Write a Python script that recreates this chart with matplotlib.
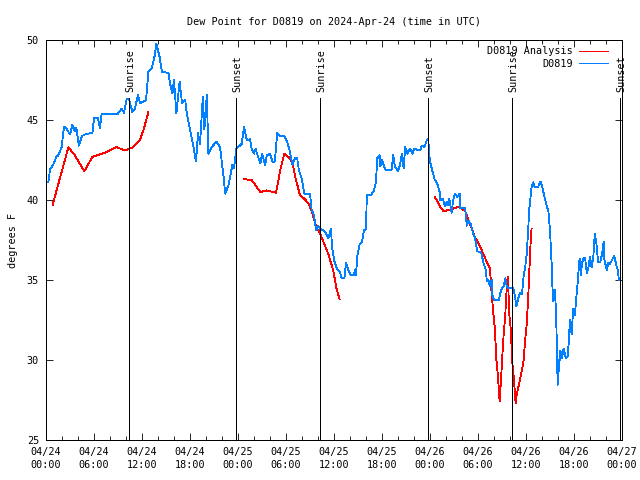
import matplotlib
matplotlib.use("Agg")
import matplotlib.pyplot as plt
import numpy as np

# ---------------- data ----------------
title = "Dew Point for D0819 on 2024-Apr-24 (time in UTC)"
ylabel = "degrees F"
xtick_hours = [0, 6, 12, 18, 24, 30, 36, 42, 48, 54, 60, 66, 72]
xtick_labels = ["04/24\n00:00", "04/24\n06:00", "04/24\n12:00", "04/24\n18:00",
                "04/25\n00:00", "04/25\n06:00", "04/25\n12:00", "04/25\n18:00",
                "04/26\n00:00", "04/26\n06:00", "04/26\n12:00", "04/26\n18:00",
                "04/27\n00:00"]
yticks = [25, 30, 35, 40, 45, 50]

sun_names = ["Sunrise", "Sunset", "Sunrise", "Sunset", "Sunrise", "Sunset"]
sun_hours = [10.4, 23.8, 34.3, 47.8, 58.3, 71.8]

obs_t = [0.29, 0.5, 0.9, 1.3, 1.55, 1.95, 2.25, 2.5, 3.0, 3.3, 3.6, 3.8, 4.1, 4.5, 4.9, 5.8,
         6.0, 6.5, 6.75, 6.95, 9.0, 9.45, 9.75, 10.1, 10.4, 10.8, 11.1, 11.5, 11.75, 12.2,
         12.5, 12.8, 13.2, 13.6, 13.8, 14.2, 14.5, 15.3, 15.5, 15.8, 16.0, 16.3, 16.7, 17.0,
         17.4, 17.6, 18.0, 18.4, 18.75, 19.0, 19.25, 19.6, 19.8, 20.1, 20.3, 20.7, 21.3,
         21.75, 22.2, 22.4, 22.8, 23.3, 23.5, 23.8, 24.45, 24.75, 25.1, 25.5, 25.7, 26.0,
         26.2, 26.5, 26.8, 27.0, 27.4, 27.6, 28.0, 28.3, 28.6, 28.9, 29.25, 29.8, 30.1,
         30.4, 30.8, 31.1, 31.4, 31.6, 31.95, 32.3, 33.0, 33.2, 33.5, 33.75, 34.0, 34.25,
         34.7, 35.0, 35.3, 35.6, 35.8, 36.1, 36.4, 36.75, 36.95, 37.3, 37.5, 37.8, 38.1,
         38.5, 38.6, 38.75, 38.9, 39.2, 39.5, 39.75, 40.0, 40.1, 40.6, 41.0, 41.25, 41.4,
         41.7, 41.8, 42.0, 42.4, 43.2, 43.4, 43.6, 44.0, 44.2, 44.5, 44.7, 44.9, 45.2,
         45.5, 45.8, 46.0, 46.75, 47.0, 47.3, 47.6, 47.8, 47.85, 48.0, 48.3, 48.6, 48.9,
         49.2, 49.3, 49.6, 49.75, 49.9, 50.1, 50.25, 50.4, 50.7, 50.9, 51.1, 51.4, 51.7,
         51.8, 52.4, 52.6, 52.8, 53.1, 53.4, 53.6, 53.9, 54.4, 54.7, 55.0, 55.1, 55.3,
         55.5, 55.7, 55.8, 56.0, 56.6, 56.9, 57.2, 57.4, 57.6, 57.8, 58.4, 58.6, 58.8,
         59.0, 59.25, 59.5, 59.7, 59.9, 60.1, 60.3, 60.4, 60.7, 60.9, 61.1, 61.5, 61.8,
         62.0, 62.4, 62.6, 62.8, 63.0, 63.2, 63.3, 63.4, 63.6, 63.75, 63.9, 63.95, 64.0,
         64.1, 64.3, 64.5, 64.7, 65.0, 65.2, 65.3, 65.5, 65.7, 65.9, 66.1, 66.4, 66.7,
         66.85, 67.0, 67.2, 67.4, 67.6, 67.8, 68.0, 68.2, 68.4, 68.6, 68.8, 69.0, 69.3,
         69.5, 69.7, 69.75, 70.1, 70.3, 70.5, 70.7, 71.0, 71.1, 71.3, 71.5, 71.6]
obs_v = [41.1, 41.9, 42.2, 42.7, 42.8, 43.3, 44.6, 44.5, 44.1, 44.7, 44.3, 44.5, 43.4, 44.0, 44.1, 44.2,
         45.1, 45.1, 44.5, 45.4, 45.4, 45.7, 45.45, 46.35, 46.25, 45.5, 45.7, 46.55, 46.05, 46.15,
         46.25, 48.0, 48.2, 49.05, 49.75, 48.95, 48.0, 47.95, 47.3, 46.65, 47.5, 45.4, 47.4, 46.05,
         46.25, 45.4, 44.4, 43.4, 42.4, 44.2, 43.5, 46.45, 44.4, 46.55, 42.9, 43.3, 43.65,
         43.3, 41.45, 40.4, 40.9, 42.2, 42.0, 43.2, 43.5, 44.55, 43.75, 43.8, 43.2, 42.9,
         43.2, 42.7, 42.3, 42.9, 42.2, 42.8, 42.9, 42.4, 42.4, 44.2, 44.0, 44.0, 43.7,
         43.2, 42.2, 42.6, 42.6, 41.9, 41.35, 40.4, 40.4, 39.4, 39.05, 38.1, 38.4, 38.2,
         38.1, 37.9, 37.6, 38.2, 36.9, 36.05, 35.7, 35.5, 35.1, 35.1, 36.05, 35.6, 35.3,
         35.3, 35.6, 35.3, 36.45, 37.2, 37.4, 38.1, 38.2, 40.3, 40.3, 40.6, 41.15, 42.6,
         42.8, 42.1, 42.5, 41.9, 41.9, 42.8, 42.1, 41.8, 42.1, 42.9, 42.0, 43.3, 42.9,
         43.2, 42.9, 43.2, 43.1, 43.4, 43.3, 43.75, 43.85, 43.1, 42.4, 41.8, 41.25, 41.05,
         40.5, 40.0, 40.1, 39.8, 39.6, 39.9, 39.7, 40.1, 39.2, 40.0, 40.4, 40.2, 40.4,
         39.5, 39.5, 38.4, 38.7, 38.5, 37.9, 37.7, 36.8, 36.7, 36.05, 35.6, 34.9, 35.0,
         34.6, 35.0, 34.05, 33.75, 33.75, 34.4, 34.6, 35.1, 34.6, 34.5, 34.5, 34.05, 33.35,
         33.8, 34.2, 34.1, 35.2, 35.8, 36.65, 38.4, 39.4, 40.8, 41.1, 40.8, 40.8, 41.15,
         40.9, 40.0, 39.6, 39.3, 38.1, 36.05, 34.6, 33.65, 34.4, 33.1, 30.0, 28.45, 30.0,
         29.3, 30.6, 30.1, 30.7, 30.1, 30.2, 30.8, 32.5, 31.6, 33.2, 32.8, 34.5, 36.35,
         35.3, 36.05, 36.35, 36.35, 35.4, 35.8, 36.45, 35.8, 36.35, 37.9, 37.3, 36.15, 36.15,
         36.6, 37.4, 36.4, 35.6, 36.1, 36.0, 36.2, 36.5, 36.35, 35.9, 35.6, 35.0]

ana1_t = [0.83, 2.8, 3.6, 4.8, 5.8, 7.6, 8.8, 9.9, 10.9, 11.75, 12.2, 12.8]
ana1_v = [39.7, 43.3, 42.8, 41.8, 42.7, 43.0, 43.3, 43.1, 43.3, 43.75, 44.4, 45.5]
ana2_t = [24.75, 25.7, 26.8, 27.6, 28.75, 29.3, 29.8, 30.5, 30.8, 31.25, 31.75, 32.25,
          32.8, 33.2, 33.8, 34.25, 34.75, 35.3, 35.9, 36.3, 36.7]
ana2_v = [41.3, 41.25, 40.5, 40.6, 40.45, 41.9, 42.9, 42.6, 42.3, 41.25, 40.3, 40.1,
          39.8, 39.3, 38.3, 37.9, 37.3, 36.6, 35.6, 34.5, 33.8]
ana3_t = [48.6, 49.25, 49.7, 50.5, 51.1, 51.7, 52.1, 52.4, 53.0, 53.6, 54.25, 54.9, 55.5,
          55.7, 55.9, 56.1, 56.3, 56.5, 56.7, 56.9, 57.1, 57.25, 57.4, 57.5, 57.7, 57.8,
          57.9, 58.1, 58.2, 58.3, 58.5, 58.7, 58.8, 59.0, 59.25, 59.5, 59.7, 59.9, 60.1,
          60.3, 60.4, 60.6, 60.7]
ana3_v = [40.2, 39.6, 39.3, 39.4, 39.5, 39.6, 39.4, 39.3, 38.5, 37.7, 37.1, 36.35, 35.7,
          34.2, 33.0, 32.0, 30.0, 28.95, 27.4, 28.95, 30.8, 31.9, 32.7, 33.75, 35.2, 34.4,
          32.9, 31.9, 30.8, 29.8, 28.75, 27.3, 27.7, 28.2, 28.75, 29.4, 30.0, 31.25, 32.3,
          34.2, 35.4, 37.6, 38.2]

# ---------------- plot ----------------
FONT = "DejaVu Sans Mono"
FS = 7.3
LW = 0.6
plt.rcParams['font.family'] = FONT
plt.rcParams['font.size'] = FS

fig = plt.figure(figsize=(6.4, 4.8), dpi=100)
ax = fig.add_axes([46/640, 40/480, 576/640, 400/480])

ana_t = ana1_t + [np.nan] + ana2_t + [np.nan] + ana3_t
ana_v = ana1_v + [np.nan] + ana2_v + [np.nan] + ana3_v
ax.plot(ana_t, ana_v, color="#ff0000", lw=LW, label="D0819 Analysis", antialiased=False)
ax.plot(obs_t, obs_v, color="#0080ff", lw=LW, label="D0819", antialiased=False)

for name, h in zip(sun_names, sun_hours):
    ax.plot([h, h], [25, 46.35], color="black", lw=LW, antialiased=False)
    ax.text(h + 0.15, 46.75, name, rotation=90, ha="center", va="bottom",
            fontsize=FS, color="black", clip_on=False)

ax.set_xlim(0, 72)
ax.set_ylim(25, 50)
ax.set_xticks(xtick_hours)
ax.set_xticklabels(xtick_labels, linespacing=1.4)
ax.set_xticks(np.arange(0, 73, 2), minor=True)
ax.set_yticks(yticks)
ax.set_yticklabels([str(v) for v in yticks])
ax.tick_params(which="both", direction="in", top=True, right=True, width=LW, color="black")
ax.tick_params(which="major", length=5)
ax.tick_params(which="minor", length=3)
ax.tick_params(axis="x", pad=5)
ax.tick_params(axis="y", pad=5)
for s in ax.spines.values():
    s.set_linewidth(LW)
    s.set_color("black")
    s.set_antialiased(False)

ax.set_title(title, fontsize=FS, pad=11)
ax.set_ylabel(ylabel, fontsize=FS, labelpad=6)

leg = ax.legend(loc="upper right", frameon=False, markerfirst=False, fontsize=FS,
                handlelength=2.9, handletextpad=0.6, borderaxespad=0.1,
                labelspacing=0.25, bbox_to_anchor=(0.985, 0.997))
for h in leg.get_lines():
    h.set_antialiased(False)
    h.set_linewidth(LW)

fig.savefig("out.png", dpi=100)
